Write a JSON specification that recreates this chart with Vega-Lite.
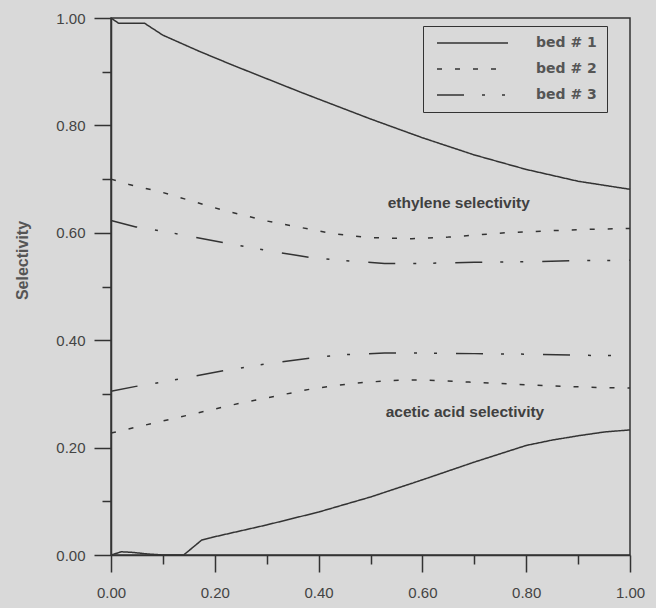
{
  "$schema": "https://vega.github.io/schema/vega-lite/v6.json",
  "width": 519,
  "height": 537,
  "autosize": {"type": "none"},
  "padding": {"left": 111, "top": 18, "right": 26, "bottom": 53},
  "background": "#d9d9d9",
  "config": {
    "view": {"stroke": "#333333", "strokeWidth": 1.5, "fill": null},
    "axis": {
      "grid": false,
      "domainColor": "#333333",
      "domainWidth": 1.5,
      "tickColor": "#333333",
      "tickWidth": 1.5,
      "labelFont": "Liberation Sans",
      "labelFontSize": 15,
      "labelColor": "#444444",
      "labelFlush": false,
      "labelOverlap": false
    }
  },
  "layer": [
    {
      "data": {
        "values": [
          {"bed": "bed # 1", "curve": "ethylene", "x": 0.0, "y": 1.0},
          {"bed": "bed # 1", "curve": "ethylene", "x": 0.015, "y": 0.99},
          {"bed": "bed # 1", "curve": "ethylene", "x": 0.065, "y": 0.99},
          {"bed": "bed # 1", "curve": "ethylene", "x": 0.1, "y": 0.968},
          {"bed": "bed # 1", "curve": "ethylene", "x": 0.17, "y": 0.938},
          {"bed": "bed # 1", "curve": "ethylene", "x": 0.235, "y": 0.912},
          {"bed": "bed # 1", "curve": "ethylene", "x": 0.3, "y": 0.887},
          {"bed": "bed # 1", "curve": "ethylene", "x": 0.365, "y": 0.862},
          {"bed": "bed # 1", "curve": "ethylene", "x": 0.4, "y": 0.849},
          {"bed": "bed # 1", "curve": "ethylene", "x": 0.5, "y": 0.812},
          {"bed": "bed # 1", "curve": "ethylene", "x": 0.6, "y": 0.777},
          {"bed": "bed # 1", "curve": "ethylene", "x": 0.7, "y": 0.745},
          {"bed": "bed # 1", "curve": "ethylene", "x": 0.8, "y": 0.718},
          {"bed": "bed # 1", "curve": "ethylene", "x": 0.9, "y": 0.696},
          {"bed": "bed # 1", "curve": "ethylene", "x": 1.0, "y": 0.681},
          {"bed": "bed # 1", "curve": "acetic", "x": 0.0, "y": 0.0},
          {"bed": "bed # 1", "curve": "acetic", "x": 0.02, "y": 0.006},
          {"bed": "bed # 1", "curve": "acetic", "x": 0.04, "y": 0.005},
          {"bed": "bed # 1", "curve": "acetic", "x": 0.07, "y": 0.002},
          {"bed": "bed # 1", "curve": "acetic", "x": 0.1, "y": 0.0},
          {"bed": "bed # 1", "curve": "acetic", "x": 0.14, "y": 0.0},
          {"bed": "bed # 1", "curve": "acetic", "x": 0.175, "y": 0.028},
          {"bed": "bed # 1", "curve": "acetic", "x": 0.2, "y": 0.034},
          {"bed": "bed # 1", "curve": "acetic", "x": 0.3, "y": 0.056},
          {"bed": "bed # 1", "curve": "acetic", "x": 0.4, "y": 0.08},
          {"bed": "bed # 1", "curve": "acetic", "x": 0.5, "y": 0.108},
          {"bed": "bed # 1", "curve": "acetic", "x": 0.6, "y": 0.14},
          {"bed": "bed # 1", "curve": "acetic", "x": 0.7, "y": 0.173},
          {"bed": "bed # 1", "curve": "acetic", "x": 0.8, "y": 0.204},
          {"bed": "bed # 1", "curve": "acetic", "x": 0.85, "y": 0.214},
          {"bed": "bed # 1", "curve": "acetic", "x": 0.9, "y": 0.222},
          {"bed": "bed # 1", "curve": "acetic", "x": 0.95, "y": 0.229},
          {"bed": "bed # 1", "curve": "acetic", "x": 1.0, "y": 0.233},
          {"bed": "bed # 2", "curve": "ethylene", "x": 0.0, "y": 0.7},
          {"bed": "bed # 2", "curve": "ethylene", "x": 0.035, "y": 0.69},
          {"bed": "bed # 2", "curve": "ethylene", "x": 0.1, "y": 0.675},
          {"bed": "bed # 2", "curve": "ethylene", "x": 0.216, "y": 0.642},
          {"bed": "bed # 2", "curve": "ethylene", "x": 0.3, "y": 0.622},
          {"bed": "bed # 2", "curve": "ethylene", "x": 0.43, "y": 0.598},
          {"bed": "bed # 2", "curve": "ethylene", "x": 0.5, "y": 0.591},
          {"bed": "bed # 2", "curve": "ethylene", "x": 0.58, "y": 0.589},
          {"bed": "bed # 2", "curve": "ethylene", "x": 0.65, "y": 0.592},
          {"bed": "bed # 2", "curve": "ethylene", "x": 0.76, "y": 0.6},
          {"bed": "bed # 2", "curve": "ethylene", "x": 0.85, "y": 0.604},
          {"bed": "bed # 2", "curve": "ethylene", "x": 0.94, "y": 0.607},
          {"bed": "bed # 2", "curve": "ethylene", "x": 1.0, "y": 0.608},
          {"bed": "bed # 2", "curve": "acetic", "x": 0.0, "y": 0.227},
          {"bed": "bed # 2", "curve": "acetic", "x": 0.106, "y": 0.251},
          {"bed": "bed # 2", "curve": "acetic", "x": 0.25, "y": 0.283},
          {"bed": "bed # 2", "curve": "acetic", "x": 0.39, "y": 0.31},
          {"bed": "bed # 2", "curve": "acetic", "x": 0.47, "y": 0.32},
          {"bed": "bed # 2", "curve": "acetic", "x": 0.54, "y": 0.325},
          {"bed": "bed # 2", "curve": "acetic", "x": 0.6, "y": 0.326},
          {"bed": "bed # 2", "curve": "acetic", "x": 0.69, "y": 0.322},
          {"bed": "bed # 2", "curve": "acetic", "x": 0.8, "y": 0.317},
          {"bed": "bed # 2", "curve": "acetic", "x": 0.87, "y": 0.314},
          {"bed": "bed # 2", "curve": "acetic", "x": 0.94, "y": 0.312},
          {"bed": "bed # 2", "curve": "acetic", "x": 1.0, "y": 0.311},
          {"bed": "bed # 3", "curve": "ethylene", "x": 0.0, "y": 0.623},
          {"bed": "bed # 3", "curve": "ethylene", "x": 0.048, "y": 0.611},
          {"bed": "bed # 3", "curve": "ethylene", "x": 0.1, "y": 0.603},
          {"bed": "bed # 3", "curve": "ethylene", "x": 0.216, "y": 0.582},
          {"bed": "bed # 3", "curve": "ethylene", "x": 0.3, "y": 0.567},
          {"bed": "bed # 3", "curve": "ethylene", "x": 0.385, "y": 0.554},
          {"bed": "bed # 3", "curve": "ethylene", "x": 0.45, "y": 0.548},
          {"bed": "bed # 3", "curve": "ethylene", "x": 0.527, "y": 0.543},
          {"bed": "bed # 3", "curve": "ethylene", "x": 0.6, "y": 0.543},
          {"bed": "bed # 3", "curve": "ethylene", "x": 0.7, "y": 0.545},
          {"bed": "bed # 3", "curve": "ethylene", "x": 0.8, "y": 0.546},
          {"bed": "bed # 3", "curve": "ethylene", "x": 0.895, "y": 0.548},
          {"bed": "bed # 3", "curve": "ethylene", "x": 1.0, "y": 0.549},
          {"bed": "bed # 3", "curve": "acetic", "x": 0.0, "y": 0.305},
          {"bed": "bed # 3", "curve": "acetic", "x": 0.048, "y": 0.314},
          {"bed": "bed # 3", "curve": "acetic", "x": 0.1, "y": 0.322},
          {"bed": "bed # 3", "curve": "acetic", "x": 0.216, "y": 0.343},
          {"bed": "bed # 3", "curve": "acetic", "x": 0.3, "y": 0.356},
          {"bed": "bed # 3", "curve": "acetic", "x": 0.385, "y": 0.367},
          {"bed": "bed # 3", "curve": "acetic", "x": 0.45, "y": 0.373},
          {"bed": "bed # 3", "curve": "acetic", "x": 0.527, "y": 0.376},
          {"bed": "bed # 3", "curve": "acetic", "x": 0.6, "y": 0.376},
          {"bed": "bed # 3", "curve": "acetic", "x": 0.7, "y": 0.375},
          {"bed": "bed # 3", "curve": "acetic", "x": 0.8, "y": 0.374},
          {"bed": "bed # 3", "curve": "acetic", "x": 0.895, "y": 0.372},
          {"bed": "bed # 3", "curve": "acetic", "x": 1.0, "y": 0.371}
        ]
      },
      "mark": {"type": "line", "color": "#333333", "strokeWidth": 1.5},
      "encoding": {
        "x": {
          "field": "x",
          "type": "quantitative",
          "scale": {"domain": [0, 1], "nice": false, "zero": false},
          "axis": {
            "title": null,
            "values": [0, 0.1, 0.2, 0.3, 0.4, 0.5, 0.6, 0.7, 0.8, 0.9, 1.0],
            "labelExpr": "round(datum.value*10) % 2 == 0 ? format(datum.value, '.2f') : ''",
            "tickSize": {"condition": {"test": "round(datum.value*10) % 2 == 0", "value": 17}, "value": 9},
            "labelPadding": 13
          }
        },
        "y": {
          "field": "y",
          "type": "quantitative",
          "scale": {"domain": [0, 1], "nice": false, "zero": false},
          "axis": {
            "title": "Selectivity",
            "titleFont": "Liberation Sans",
            "titleFontSize": 16,
            "titleFontWeight": "bold",
            "titleColor": "#555555",
            "titleX": -89,
            "titleY": 242,
            "titleBaseline": "middle",
            "values": [0, 0.1, 0.2, 0.3, 0.4, 0.5, 0.6, 0.7, 0.8, 0.9, 1.0],
            "labelExpr": "round(datum.value*10) % 2 == 0 ? format(datum.value, '.2f') : ''",
            "tickSize": {"condition": {"test": "round(datum.value*10) % 2 == 0", "value": 17}, "value": 9},
            "labelPadding": 9
          }
        },
        "detail": {"field": "curve"},
        "strokeDash": {
          "field": "bed",
          "type": "nominal",
          "scale": {
            "domain": ["bed # 1", "bed # 2", "bed # 3"],
            "range": [[1, 0], [5, 13], [27, 18, 3, 17, 3, 19]]
          },
          "legend": {
            "title": null,
            "orient": "none",
            "legendX": 312,
            "legendY": 8,
            "strokeColor": "#333333",
            "padding": 10,
            "symbolType": "stroke",
            "symbolSize": 5041,
            "symbolStrokeWidth": 1.5,
            "symbolStrokeColor": "#333333",
            "symbolOffset": 3,
            "clipHeight": 14,
            "rowPadding": 12,
            "labelOffset": 27,
            "labelFont": "DejaVu Sans",
            "labelFontWeight": "bold",
            "labelFontSize": 14,
            "labelColor": "#555555"
          }
        }
      }
    },
    {
      "data": {
        "values": [
          {"label": "ethylene selectivity", "x": 0.67, "y": 0.655},
          {"label": "acetic acid selectivity", "x": 0.682, "y": 0.266}
        ]
      },
      "mark": {
        "type": "text",
        "font": "Liberation Sans",
        "fontSize": 15.5,
        "fontWeight": "bold",
        "color": "#404040",
        "align": "center",
        "baseline": "middle"
      },
      "encoding": {
        "x": {"field": "x", "type": "quantitative"},
        "y": {"field": "y", "type": "quantitative"},
        "text": {"field": "label"}
      }
    }
  ]
}
